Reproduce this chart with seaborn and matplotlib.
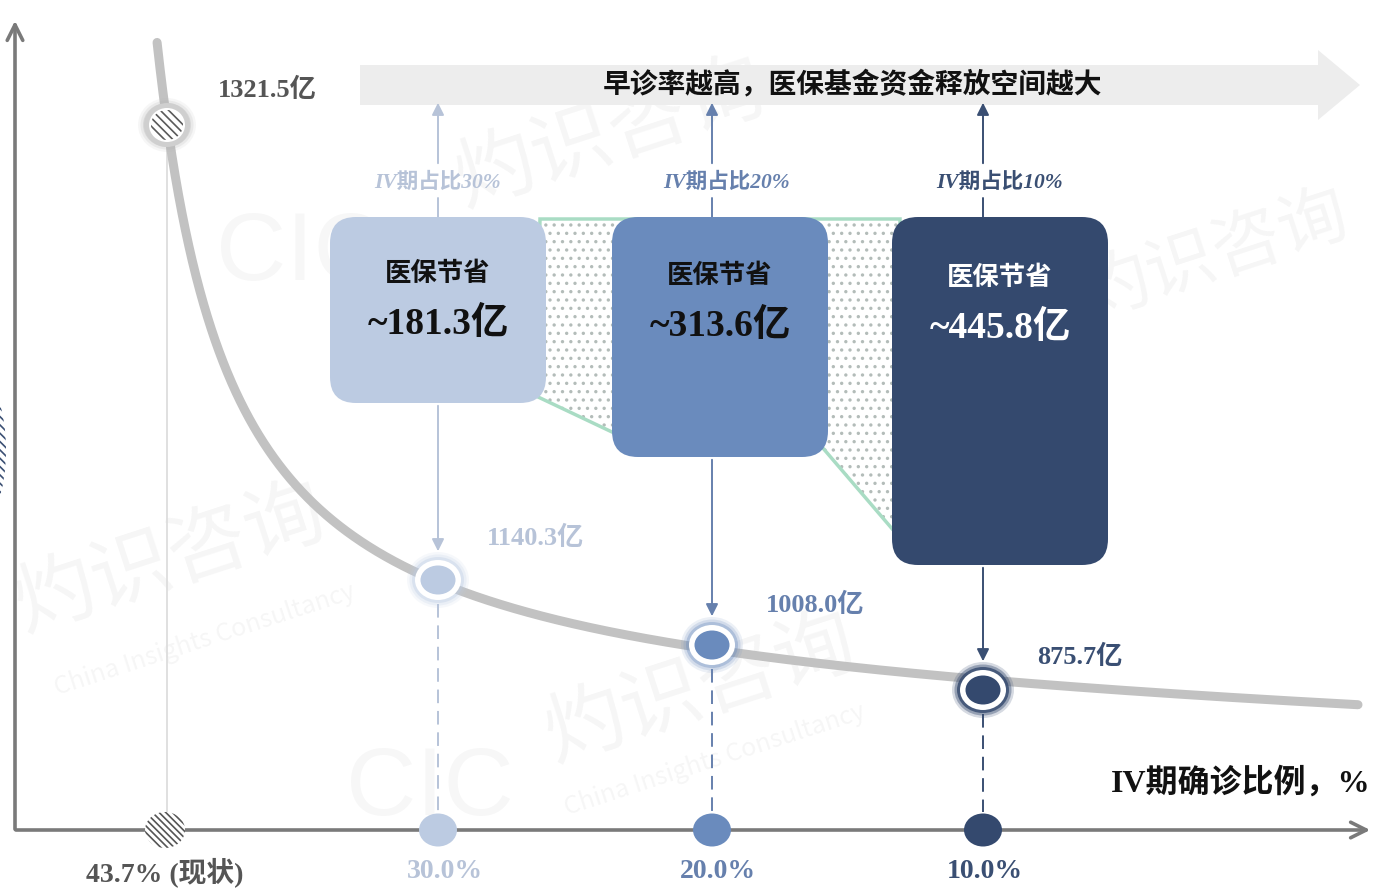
import numpy as np
import pandas as pd
import matplotlib
matplotlib.use("Agg")
import matplotlib.pyplot as plt
import seaborn as sns
from matplotlib.patches import Ellipse, FancyBboxPatch, Polygon

# ---------------- data ----------------
scenario_labels = ["43.7% (现状)", "30.0%", "20.0%", "10.0%"]
cost_values = [1321.5, 1140.3, 1008.0, 875.7]          # 亿
share_labels = ["IV期占比30%", "IV期占比20%", "IV期占比10%"]
saving_values = [181.3, 313.6, 445.8]                   # 亿
title_text = "早诊率越高，医保基金资金释放空间越大"
xaxis_label = "IV期确诊比例，%"
box_head = "医保节省"

# ---------------- style ----------------
sns.set_theme(style="white")
plt.rcParams['font.family'] = ['Liberation Serif', 'Noto Sans CJK SC', 'DejaVu Sans']
plt.rcParams['hatch.linewidth'] = 1.2

C_GRAY_T = "#555555"
C_LIGHT, C_MID, C_DARK = "#bccbe2", "#6a8bbd", "#34496e"
T_LIGHT, T_MID, T_DARK = "#b7c3d8", "#6680ad", "#3a4f73"
fills = [None, C_LIGHT, C_MID, C_DARK]
tcols = [C_GRAY_T, T_LIGHT, T_MID, T_DARK]

W, H = 1376, 890
fig = plt.figure(figsize=(W / 100, H / 100), dpi=100)
ax = fig.add_axes([0, 0, 1, 1])

# ---------------- layout (pixel canvas) ----------------
X_POS = [167, 438, 712, 983]       # scenario slots along the schematic x axis
Y_PT = [125, 580, 645, 690]        # schematic heights of the points on the curve
AX_Y = 830                         # x-axis baseline
BOX_L = [330, 612, 892]
BOX_W = 216
BOX_TOP = 217
BOX_BOT = [403, 457, 565]

# watermarks (faint)
wm = dict(color="#000000", alpha=0.04, rotation=18, ha="center", va="center",
          family=['Noto Sans CJK SC'], zorder=0)
for (x, y, s) in [(610, 135, 58), (1215, 255, 50), (170, 560, 58), (700, 690, 58)]:
    ax.text(x, y, "灼识咨询", fontsize=s, **wm)
for (x, y) in [(205, 640), (715, 760)]:
    ax.text(x, y, "China Insights Consultancy", fontsize=18, **wm)
for (x, y) in [(300, 255), (430, 790)]:
    ax.text(x, y, "CIC", fontsize=70, color="#000000", alpha=0.03, ha="center",
            va="center", zorder=0, family=['Liberation Sans'])

# top banner arrow
banner = Polygon([(360, 65), (1318, 65), (1318, 50), (1360, 85), (1318, 120), (1318, 105), (360, 105)],
                 closed=True, facecolor="#ededed", edgecolor="none", zorder=1)
ax.add_patch(banner)
ax.text(852, 84, title_text, fontsize=20, fontweight="bold", color="#111111",
        ha="center", va="center", zorder=5)

# axes arrows
ax.annotate("", xy=(15, 18), xytext=(15, AX_Y + 2),
            arrowprops=dict(arrowstyle="->", color="#7a7a7a", lw=2.6, mutation_scale=28), zorder=3)
ax.annotate("", xy=(1373, AX_Y), xytext=(13, AX_Y),
            arrowprops=dict(arrowstyle="->", color="#7a7a7a", lw=2.6, mutation_scale=28), zorder=3)
ax.text(1370, 783, xaxis_label, fontsize=23, fontweight="bold", color="#111111",
        ha="right", va="center", zorder=5)

# partial hatched mark on the left edge
ax.add_patch(Ellipse((-22, 450), 56, 150, facecolor="white", edgecolor="#3a4f73", lw=0,
                     hatch="\\\\\\\\", zorder=2))

# green dotted connector region
poly_pts = [(540, 219), (900, 219), (900, 538), (822, 447), (612, 432), (536, 396)]
ax.add_patch(Polygon(poly_pts, closed=True, facecolor="white", edgecolor="#b3bcb9", lw=0,
                     hatch="..", zorder=2))
ax.add_patch(Polygon(poly_pts, closed=True, facecolor="none", edgecolor="#a9dcc4", lw=2.5, zorder=2))

# ---------------- curve (schematic, through the points) ----------------
fit_x = np.array([157.0, X_POS[0], X_POS[1], X_POS[2], X_POS[3], 1358.0])
fit_y = np.array([40.0, Y_PT[0], Y_PT[1], Y_PT[2], Y_PT[3], 700.0])
best = None
for C in np.linspace(0, 150, 601):
    A = np.column_stack([np.ones_like(fit_x), 1.0 / (fit_x - C), fit_x])
    coef, res, *_ = np.linalg.lstsq(A, fit_y, rcond=None)
    err = np.sum((A @ coef - fit_y) ** 2)
    if best is None or err < best[0]:
        best = (err, C, coef)
_, Cb, cf = best
cx = np.linspace(Cb + 5, 1358, 3000)
cy = cf[0] + cf[1] / (cx - Cb) + cf[2] * cx
keep = cy >= 42
curve = pd.DataFrame({"x": cx[keep], "y": cy[keep]})
sns.lineplot(data=curve, x="x", y="y", ax=ax, color="#c2c2c2", linewidth=6.5,
             sort=False, zorder=3, legend=False)

# ---------------- vertical guides ----------------
ax.plot([X_POS[0], X_POS[0]], [Y_PT[0] + 22, AX_Y - 18], color="#dddddd", lw=1.3, zorder=2)
for i in range(1, 4):
    x = X_POS[i]
    c = tcols[i]
    ax.plot([x, x], [Y_PT[i] + 24, AX_Y - 18], color=c, lw=1.4, ls=(0, (7, 4)), zorder=2)
    ax.annotate("", xy=(x, Y_PT[i] - 26), xytext=(x, BOX_BOT[i - 1]),
                arrowprops=dict(arrowstyle="-|>", color=c, lw=1.4, mutation_scale=18), zorder=4)
    ax.plot([x, x], [BOX_TOP, 198], color=c, lw=1.4, zorder=2)
    ax.annotate("", xy=(x, 100), xytext=(x, 166),
                arrowprops=dict(arrowstyle="-|>", color=c, lw=1.4, mutation_scale=18), zorder=4)
    ax.text(x + (0 if i == 1 else (15 if i == 2 else 17)), 183, share_labels[i - 1], fontsize=15.5,
            fontweight="bold", fontstyle="italic", color=c, ha="center", va="center", zorder=5)

# ---------------- saving boxes ----------------
for j in range(3):
    fc = fills[j + 1]
    h = BOX_BOT[j] - BOX_TOP
    ax.add_patch(FancyBboxPatch((BOX_L[j], BOX_TOP), BOX_W, h,
                                boxstyle="round,pad=0,rounding_size=26",
                                facecolor=fc, edgecolor="none", zorder=4))
    tc = "white" if j == 2 else "#111111"
    cxb = BOX_L[j] + BOX_W / 2
    ax.text(cxb, BOX_TOP + 57 + j * 2, box_head, fontsize=19, fontweight="bold", color=tc,
            ha="center", va="center", zorder=6)
    ax.text(cxb, BOX_TOP + 107 + j * 2, f"~{saving_values[j]:.1f}亿", fontsize=27, fontweight="bold",
            color=tc, ha="center", va="center", zorder=6)

# ---------------- points on the curve ----------------
x0, y0 = X_POS[0], Y_PT[0]
for k, a in enumerate([0.10, 0.18, 0.3]):
    ax.add_patch(Ellipse((x0, y0), 58 - k * 5, 54 - k * 5, facecolor="#b0b0b0", edgecolor="none",
                         alpha=a, zorder=5))
ax.add_patch(Ellipse((x0, y0), 46, 44, facecolor="#cfcfcf", edgecolor="none", zorder=5))
ax.add_patch(Ellipse((x0, y0), 36, 34, facecolor="white", edgecolor="none", zorder=5))
ax.add_patch(Ellipse((x0, y0), 32, 30, facecolor="white", edgecolor="#5a5a5a", lw=0,
                     hatch="\\\\\\\\", zorder=6))

for i in range(1, 4):
    x, y = X_POS[i], Y_PT[i]
    fc = fills[i]
    glow_alpha = [0.12, 0.2, 0.35] if i < 3 else [0.2, 0.4, 0.8]
    for k, a in enumerate(glow_alpha):
        ax.add_patch(Ellipse((x, y), 62 - k * 5, 56 - k * 5, facecolor=fc, edgecolor="none",
                             alpha=a, zorder=5))
    ax.add_patch(Ellipse((x, y), 46, 40, facecolor="white", edgecolor="none", zorder=5))
    ax.add_patch(Ellipse((x, y), 35, 29, facecolor=fc, edgecolor="none", zorder=6))

val_pos = [(218, 90), (487, 538), (766, 605), (1037, 657)]
for i in range(4):
    ax.text(val_pos[i][0], val_pos[i][1], f"{cost_values[i]:.1f}亿", fontsize=19, fontweight="bold",
            color=tcols[i], ha="left", va="center", zorder=6)

# ---------------- markers on x axis + labels ----------------
ax.add_patch(Ellipse((X_POS[0] - 2, AX_Y), 40, 36, facecolor="white", edgecolor="#555555", lw=0,
                     hatch="\\\\\\\\\\", zorder=5))
for i in range(1, 4):
    ax.add_patch(Ellipse((X_POS[i], AX_Y), 38, 33, facecolor=fills[i], edgecolor="none", zorder=5))

lab_x = [165, 445, 718, 985]
for i in range(4):
    ax.text(lab_x[i], 872, scenario_labels[i], fontsize=20, fontweight="bold", color=tcols[i],
            ha="center", va="center", zorder=6)

ax.set_xlim(0, W)
ax.set_ylim(H, 0)
ax.axis("off")
fig.savefig("out.png", dpi=100)
